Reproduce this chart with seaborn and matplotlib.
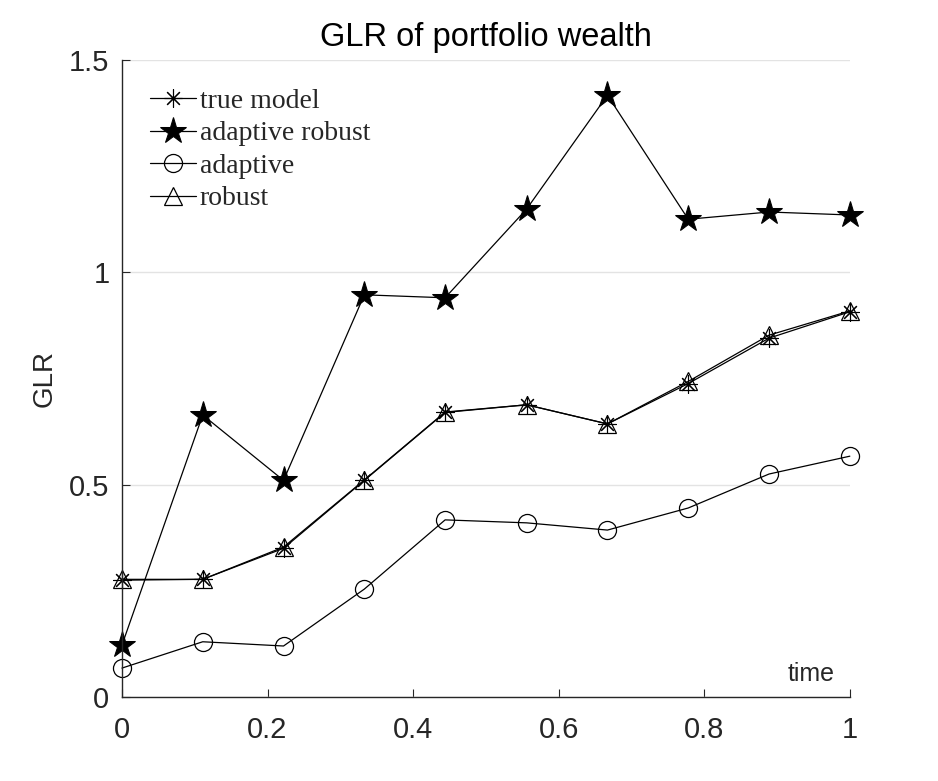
import numpy as np
import pandas as pd
import matplotlib
matplotlib.use("Agg")
import matplotlib.pyplot as plt
import seaborn as sns

# time points (10 steps from 0 to 1)
time = [0.0, 0.111, 0.222, 0.333, 0.444, 0.556, 0.667, 0.778, 0.889, 1.0]

true_model = [0.275, 0.277, 0.350, 0.510, 0.670, 0.688, 0.643, 0.738, 0.845, 0.907]
adaptive_robust = [0.122, 0.664, 0.510, 0.947, 0.940, 1.149, 1.417, 1.125, 1.142, 1.135]
adaptive = [0.068, 0.130, 0.120, 0.254, 0.417, 0.410, 0.393, 0.445, 0.525, 0.567]
robust = [0.277, 0.277, 0.353, 0.511, 0.671, 0.688, 0.643, 0.743, 0.852, 0.909]

labels = ["true model", "adaptive robust", "adaptive", "robust"]
title = "GLR of portfolio wealth"

sns.set_style("white")
plt.rcParams['font.family'] = ['Liberation Sans', 'DejaVu Sans']

fig = plt.figure(figsize=(9.38, 7.81), dpi=100)
ax = fig.add_axes([0.130, 0.1076, 0.776, 0.8156])

styles = [
    (true_model, dict(marker=(8, 2, 0), markersize=13, markeredgewidth=0.8)),
    (adaptive_robust, dict(marker='*', markersize=20, markerfacecolor='black')),
    (adaptive, dict(marker='o', markersize=13, markerfacecolor='none', markeredgewidth=0.9)),
    (robust, dict(marker='^', markersize=13, markerfacecolor='none', markeredgewidth=0.9)),
]
for (vals, kw), lab in zip(styles, labels):
    sns.lineplot(x=time, y=vals, ax=ax, color='black', linewidth=0.9,
                 markeredgecolor='black', label=lab, clip_on=False, **kw)

ax.set_xlim(0, 1)
ax.set_ylim(0, 1.5)
ax.set_xticks([0, 0.2, 0.4, 0.6, 0.8, 1])
ax.set_xticklabels(["0", "0.2", "0.4", "0.6", "0.8", "1"])
ax.set_yticks([0, 0.5, 1, 1.5])
ax.set_yticklabels(["0", "0.5", "1", "1.5"])
ax.yaxis.grid(True, color='#e3e3e3', linewidth=1)
ax.xaxis.grid(False)
ax.set_axisbelow(True)
for s in ['top', 'right']:
    ax.spines[s].set_visible(False)
for s in ['left', 'bottom']:
    ax.spines[s].set_color('#262626')
    ax.spines[s].set_linewidth(1)
ax.tick_params(direction='in', length=6, width=0.8, colors='#262626',
               labelsize=21, labelcolor='#262626', pad=9)
ax.tick_params(axis='x', bottom=True, pad=14)
ax.tick_params(axis='y', left=True)

ax.set_title(title, fontsize=23.5, color='black', pad=10)
ax.set_ylabel("GLR", fontsize=20, color='#262626', labelpad=8)
ax.text(0.979, 0.017, "time", transform=ax.transAxes, ha='right', va='bottom',
        fontsize=18, color='#262626')

leg = ax.legend(loc='upper left', frameon=False,
                prop={'family': 'Liberation Serif', 'size': 20},
                handlelength=1.65, handletextpad=0.15, labelspacing=0.25,
                borderaxespad=0, borderpad=0, bbox_to_anchor=(0.0385, 0.955))

fig.savefig("out.png", dpi=100)
plt.close('all')
